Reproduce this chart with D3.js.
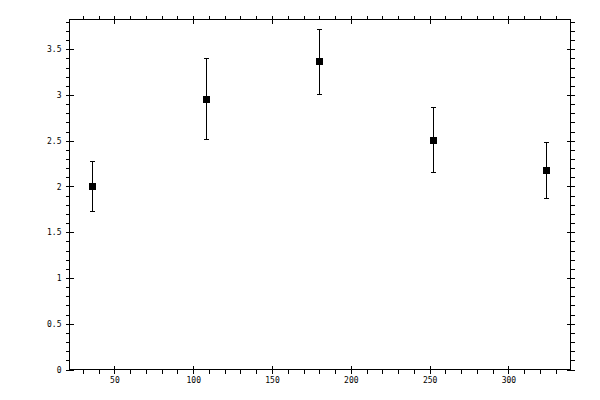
<!DOCTYPE html>
<html>
<head>
<meta charset="utf-8">
<script src="https://cdn.jsdelivr.net/npm/d3@7"></script>
<style>
  body { margin: 0; background: #fff; }
  svg { display: block; }
  .axis text { font-family: "DejaVu Sans Mono", monospace; font-size: 8px; fill: #000; }
  .axis line { stroke: #000; shape-rendering: crispEdges; }
  .axis path { display: none; }
</style>
</head>
<body>
<div id="chart"></div>
<script>
// --- Data ---
var xValues = [36, 108, 180, 252, 324];
var yMeans  = [2.0, 2.96, 3.37, 2.51, 2.18];
var yLower  = [1.73, 2.52, 3.01, 2.16, 1.87];
var yUpper  = [2.28, 3.40, 3.72, 2.87, 2.49];

var xMajorTicks = [50, 100, 150, 200, 250, 300];
var xMinorTicks = [30, 40, 60, 70, 80, 90, 110, 120, 130, 140, 160, 170, 180, 190,
                   210, 220, 230, 240, 260, 270, 280, 290, 310, 320, 330];
var yMajorTicks = [0, 0.5, 1, 1.5, 2, 2.5, 3, 3.5];
var yMinorTicks = [0.1, 0.2, 0.3, 0.4, 0.6, 0.7, 0.8, 0.9, 1.1, 1.2, 1.3, 1.4,
                   1.6, 1.7, 1.8, 1.9, 2.1, 2.2, 2.3, 2.4, 2.6, 2.7, 2.8, 2.9,
                   3.1, 3.2, 3.3, 3.4, 3.6, 3.7, 3.8];
var yTickLabels = ['0', '0.5', '1', '1.5', '2', '2.5', '3', '3.5'];

(function () {
    var width = 600, height = 400;
    var pLeft = 69.5, pRight = 570.5, pTop = 19.5, pBottom = 369.5;
    var tick = 4;

    var svg = d3.select('#chart').append('svg')
        .attr('width', width)
        .attr('height', height);

    var x = d3.scaleLinear().domain([21.5, 339.4]).range([pLeft, pRight]);
    var y = d3.scaleLinear().domain([0, 3.825]).range([pBottom, pTop]);

    // major ticks cross the frame, minor ticks point outward only
    function axisPair(axisFn, scale, major, minor, transform, labels, inwardAttr, inwardSign) {
        svg.append('g').attr('class', 'axis').attr('transform', transform)
            .call(axisFn(scale).tickValues(minor).tickSize(tick).tickFormat(''));
        var fmt = labels ? function (d) { return labels[major.indexOf(d)]; } : function () { return ''; };
        var gMajor = svg.append('g').attr('class', 'axis').attr('transform', transform)
            .call(axisFn(scale).tickValues(major).tickSize(tick).tickPadding(4).tickFormat(fmt));
        gMajor.selectAll('line').attr(inwardAttr, inwardSign * tick);
        return gMajor;
    }

    axisPair(d3.axisBottom, x, xMajorTicks, xMinorTicks, 'translate(0,' + pBottom + ')', xMajorTicks.map(String), 'y1', -1);
    axisPair(d3.axisTop, x, xMajorTicks, xMinorTicks, 'translate(0,' + pTop + ')', null, 'y1', 1);
    axisPair(d3.axisLeft, y, yMajorTicks, yMinorTicks, 'translate(' + pLeft + ',0)', yTickLabels, 'x1', 1);
    axisPair(d3.axisRight, y, yMajorTicks, yMinorTicks, 'translate(' + pRight + ',0)', null, 'x1', -1);

    // frame
    svg.append('rect')
        .attr('x', pLeft).attr('y', pTop)
        .attr('width', pRight - pLeft).attr('height', pBottom - pTop)
        .attr('fill', 'none').attr('stroke', '#000')
        .attr('shape-rendering', 'crispEdges');

    // --- Error bars ---
    var points = xValues.map(function (v, i) {
        return { x: v, mean: yMeans[i], lo: yLower[i], hi: yUpper[i] };
    });

    var bars = svg.append('g')
        .attr('stroke', '#000')
        .attr('stroke-width', 1)
        .attr('shape-rendering', 'crispEdges');

    bars.selectAll('line.stem').data(points).join('line')
        .attr('class', 'stem')
        .attr('x1', function (d) { return Math.round(x(d.x)) + 0.5; })
        .attr('x2', function (d) { return Math.round(x(d.x)) + 0.5; })
        .attr('y1', function (d) { return y(d.lo); })
        .attr('y2', function (d) { return y(d.hi); });

    ['lo', 'hi'].forEach(function (k) {
        bars.selectAll('line.cap-' + k).data(points).join('line')
            .attr('class', 'cap-' + k)
            .attr('x1', function (d) { return Math.round(x(d.x)) - 2; })
            .attr('x2', function (d) { return Math.round(x(d.x)) + 3; })
            .attr('y1', function (d) { return Math.round(y(d[k])) + 0.5; })
            .attr('y2', function (d) { return Math.round(y(d[k])) + 0.5; });
    });

    // --- Markers ---
    svg.append('g').selectAll('rect').data(points).join('rect')
        .attr('x', function (d) { return Math.round(x(d.x)) - 3; })
        .attr('y', function (d) { return Math.round(y(d.mean)) - 3; })
        .attr('width', 7)
        .attr('height', 7)
        .attr('fill', '#000')
        .attr('shape-rendering', 'crispEdges');
})();
</script>
</body>
</html>
